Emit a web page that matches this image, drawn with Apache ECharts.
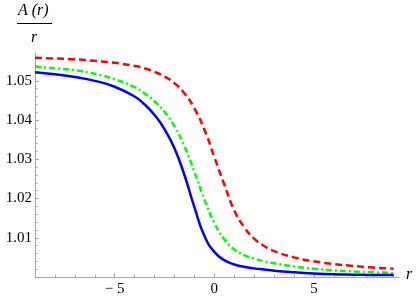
<!DOCTYPE html>
<html><head><meta charset="utf-8">
<script src="https://cdn.jsdelivr.net/npm/echarts@6/dist/echarts.min.js"></script>
<style>html,body{margin:0;padding:0;background:#fff}#c{width:416px;height:299px}</style>
</head><body><div id="c"></div>
<script>
const rValues = [-9,-8,-7,-6,-5,-4,-3.5,-3,-2.5,-2,-1.5,-1,-0.5,0,0.5,1,1.5,2,2.5,3,4,5,6,7,8,9];
const blueSeries = [1.0522,1.0517,1.0510,1.0500,1.0485,1.0460,1.0440,1.0413,1.0377,1.0328,1.0260,1.0178,1.0105,1.0064,1.0043,1.0032,1.0026,1.0022,1.0019,1.0016,1.0012,1.0009,1.0007,1.0006,1.0005,1.0005];
const greenSeries = [1.0536,1.0532,1.0527,1.0518,1.0504,1.0484,1.0468,1.0448,1.0421,1.0384,1.0333,1.0268,1.0198,1.0138,1.0096,1.0070,1.0056,1.0047,1.0040,1.0035,1.0027,1.0021,1.0017,1.0014,1.0012,1.0010];
const redSeries = [1.0559,1.0557,1.0555,1.0551,1.0546,1.0538,1.0532,1.0523,1.0511,1.0494,1.0468,1.0430,1.0376,1.0306,1.0236,1.0170,1.0127,1.0098,1.0079,1.0066,1.0050,1.0040,1.0033,1.0028,1.0024,1.0021];
const xMajorTicks = [-5,0,5];
const xMinorTicks = [-8,-7,-6,-4,-3,-2,-1,1,2,3,4,6,7,8,9];
const yMajorTicks = [1.01,1.02,1.03,1.04,1.05];
const yMinorTicks = [1.002,1.004,1.006,1.008,1.012,1.014,1.016,1.018,1.022,1.024,1.026,1.028,1.032,1.034,1.036,1.038,1.042,1.044,1.046,1.048,1.052,1.054,1.056];

const pair = ys => rValues.map((x,i)=>[x,ys[i]]);
const chart = echarts.init(document.getElementById('c'), null, {renderer:'canvas'});
const font = '"Liberation Serif", "Times New Roman", serif';
const axisCol = '#a8a8a8';
const X = {min:-9, max:9.27};
const Y = {min:1.0, max:1.0571};
chart.setOption({
  animation:false,
  grid:{left:35, right:17, top:53, bottom:22},
  xAxis:[
    {type:'value', min:X.min, max:X.max,
     axisLine:{show:true, onZero:false, lineStyle:{color:axisCol,width:1}},
     axisTick:{show:true, inside:true, length:4, customValues:xMajorTicks, lineStyle:{color:axisCol}},
     axisLabel:{show:true, customValues:xMajorTicks, margin:5, color:'#000', fontFamily:font, fontSize:15,
       formatter:v=> v<0 ? '\u2212 ' + Math.abs(v) : String(v)},
     splitLine:{show:false}},
    {type:'value', min:X.min, max:X.max, position:'bottom',
     axisLine:{show:false, onZero:false},
     axisTick:{show:true, inside:true, length:2.5, customValues:xMinorTicks, lineStyle:{color:axisCol}},
     axisLabel:{show:false}, splitLine:{show:false}}
  ],
  yAxis:[
    {type:'value', min:Y.min, max:Y.max,
     axisLine:{show:true, onZero:false, lineStyle:{color:axisCol,width:1}},
     axisTick:{show:true, inside:true, length:4, customValues:yMajorTicks, lineStyle:{color:axisCol}},
     axisLabel:{show:true, customValues:yMajorTicks, margin:3, color:'#000', fontFamily:font, fontSize:15,
       formatter:v=>v.toFixed(2)},
     splitLine:{show:false}},
    {type:'value', min:Y.min, max:Y.max, position:'left',
     axisLine:{show:false, onZero:false},
     axisTick:{show:true, inside:true, length:2.5, customValues:yMinorTicks, lineStyle:{color:axisCol}},
     axisLabel:{show:false}, splitLine:{show:false}}
  ],
  series:[
    {type:'line', data:pair(redSeries), smooth:0.5, showSymbol:false,
     lineStyle:{color:'#ff0000', width:2.5, type:[7,4]}},
    {type:'line', data:pair(greenSeries), smooth:0.5, showSymbol:false,
     lineStyle:{color:'#00ff00', width:2.5, type:[6,3,2,3]}},
    {type:'line', data:pair(blueSeries), smooth:0.5, showSymbol:false,
     lineStyle:{color:'#0000ff', width:2.5}}
  ],
  graphic:[
    {type:'text', left:18, top:3, style:{text:'A (r)', font:'italic 16px "Liberation Serif", serif', fill:'#000'}},
    {type:'line', shape:{x1:17,y1:23.5,x2:52,y2:23.5}, style:{stroke:'#000', lineWidth:1}},
    {type:'text', left:31, top:30, style:{text:'r', font:'italic 16px "Liberation Serif", serif', fill:'#000'}},
    {type:'text', left:406, top:267, style:{text:'r', font:'italic 16px "Liberation Serif", serif', fill:'#000'}}
  ]
});
</script></body></html>
